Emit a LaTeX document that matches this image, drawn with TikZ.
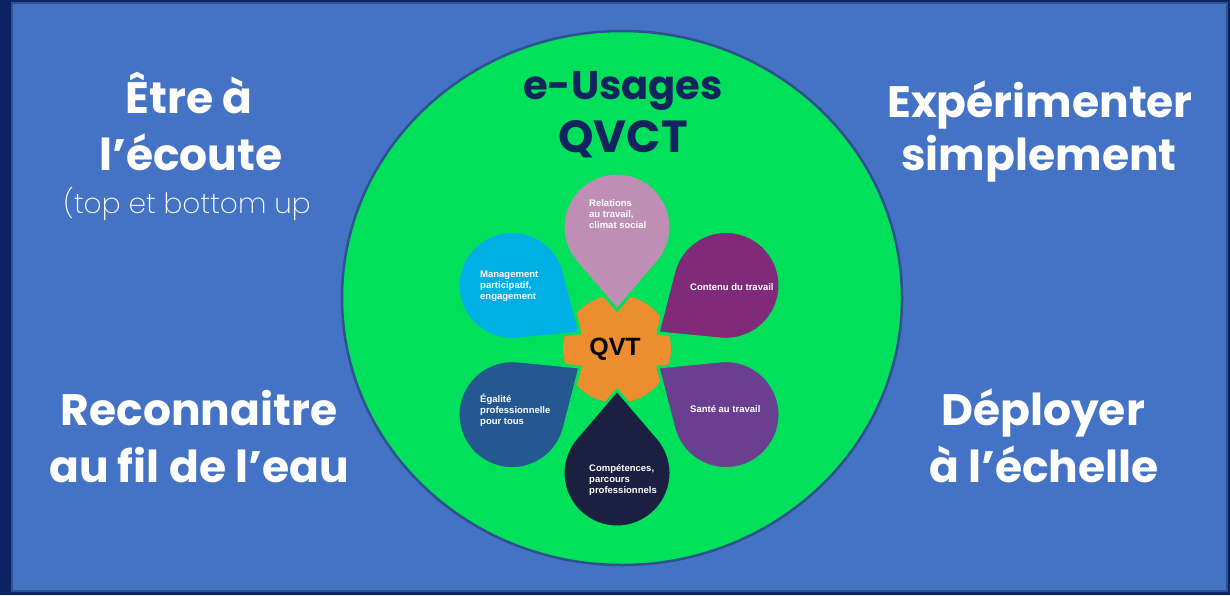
\documentclass[tikz,border=0pt]{standalone}
\usepackage{fontspec}
\setmainfont{Poppins}
\setfontfamily\lightfont{Poppins}
\IfFontExistsTF{Poppins-Light}{\setfontfamily\lightfont{Poppins-Light}}{}
\IfFontExistsTF{Poppins-ExtraLight}{\setfontfamily\lightfont{Poppins-ExtraLight}}{}
\newfontfamily\arialfont{Liberation Sans}
\definecolor{framedark}{RGB}{11,36,99}
\definecolor{bgblue}{RGB}{68,114,196}
\definecolor{edgeblue}{RGB}{47,82,143}
\definecolor{qgreen}{RGB}{0,224,90}
\definecolor{qorange}{RGB}{236,141,48}
\definecolor{titlenavy}{RGB}{17,36,94}
\definecolor{prelations}{RGB}{191,142,181}
\definecolor{pcontenu}{RGB}{130,42,122}
\definecolor{psante}{RGB}{106,63,143}
\definecolor{pcompet}{RGB}{27,32,65}
\definecolor{pegalite}{RGB}{37,88,145}
\definecolor{pmanag}{RGB}{0,175,228}
\begin{document}
\begin{tikzpicture}[x=1pt,y=1pt,
bigtext/.style={text=white,anchor=base,font=\fontsize{44}{52}\selectfont\bfseries},
subtext/.style={text=white,anchor=base,font=\fontsize{28}{34}\selectfont\lightfont},
titletext/.style={text=titlenavy,anchor=base,font=\fontsize{40}{48}\selectfont\bfseries},
petaltext/.style={text=white,anchor=west,align=left,inner sep=0pt,font=\fontsize{9.5}{11}\selectfont\arialfont\bfseries},
petal/.style={draw=qgreen,line width=3,line join=round}]
\useasboundingbox (0,0) rectangle (1230,-595);
\fill[framedark] (0,0) rectangle (1230,-595);
\draw[fill=bgblue,draw=edgeblue,line width=2] (12,-3) rectangle (1227,-591);
\draw[fill=qgreen,draw=edgeblue,line width=2.5] (622,-298) ellipse [x radius=280,y radius=267];
\fill[qorange] (617,-349) circle [radius=54];
\foreach \tx/\ty/\ang/\col in {617/-310/90/prelations,658/-333/35/pcontenu,658/-367/-35/psante,
  617/-390/-90/pcompet,580/-367/-145/pegalite,580/-333/145/pmanag}
  \draw[petal,fill=\col,shift={(\tx,\ty)},rotate=\ang] (0,0) -- (48.3,41.4)
    arc[start angle=130,end angle=-130,radius=54] -- cycle;
\node[text=black,anchor=base,font=\fontsize{25}{30}\selectfont\arialfont\bfseries] (qvt) at (615,-355) {QVT};
\node[petaltext] (relations) at (589,-214) {Relations\\au travail,\\climat social};
\node[petaltext] (contenu) at (690,-287) {Contenu du travail};
\node[petaltext] (sante) at (690,-409) {Santé au travail};
\node[petaltext] (compet) at (589,-480) {Compétences,\\parcours\\professionnels};
\node[petaltext] (egalite) at (480,-410) {Égalité\\professionnelle\\pour tous};
\node[petaltext] (manag) at (480,-286) {Management\\participatif,\\engagement};
\node[titletext] (eusages) at (623,-99) {e-Usages};
\node[titletext,font=\fontsize{45}{52}\selectfont\bfseries] (qvct) at (623,-152) {QVCT};
\node[bigtext] (etre) at (189,-113) {Être à};
\node[bigtext] (ecoute) at (191,-170) {l’écoute};
\node[subtext] (topbottom) at (187,-213) {(top et bottom up};
\node[bigtext] (experimenter) at (1040,-117) {Expérimenter};
\node[bigtext] (simplement) at (1039,-170) {simplement};
\node[bigtext] (reconnaitre) at (199,-425) {Reconnaitre};
\node[bigtext] (fileau) at (199,-482) {au fil de l’eau};
\node[bigtext] (deployer) at (1043,-425) {Déployer};
\node[bigtext] (echelle) at (1044,-482) {à l’échelle};
\end{tikzpicture}
\end{document}
